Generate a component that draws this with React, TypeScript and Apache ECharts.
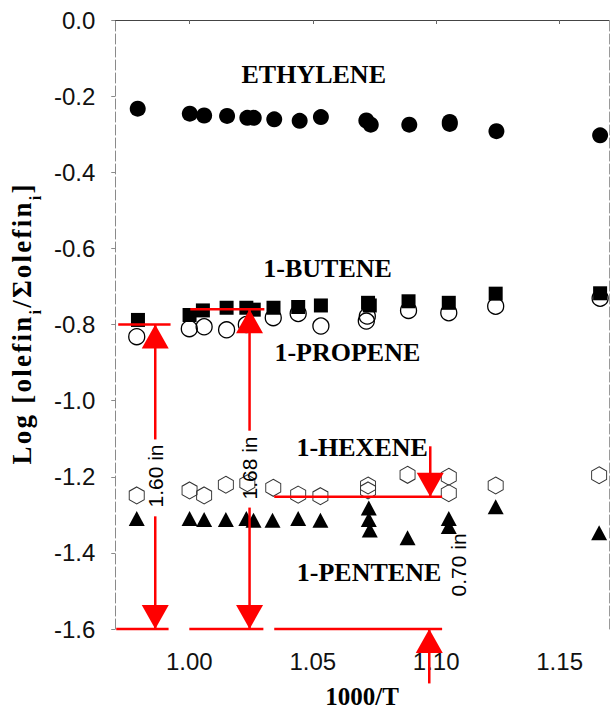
import React, { useEffect, useRef } from "react";
import * as echarts from "echarts";

// ---- data (x = 1000/T, y = log fraction) ----
const ethylene: number[][] = [
  [0.9791, -0.233], [1.0002, -0.246], [1.006, -0.251], [1.0153, -0.252],
  [1.0235, -0.257], [1.0261, -0.257], [1.0344, -0.261], [1.0447, -0.265],
  [1.0533, -0.255], [1.0717, -0.264], [1.0735, -0.275], [1.0891, -0.275],
  [1.1055, -0.268], [1.1055, -0.273], [1.1244, -0.292], [1.1664, -0.303],
];
const butene: number[][] = [
  [0.9792, -0.788], [1.0001, -0.775], [1.0055, -0.763], [1.0151, -0.756],
  [1.0231, -0.756], [1.0261, -0.761], [1.0341, -0.756], [1.0441, -0.754],
  [1.0533, -0.75], [1.0724, -0.743], [1.0731, -0.75], [1.0888, -0.739],
  [1.1051, -0.743], [1.1241, -0.719], [1.1664, -0.718],
];
const propene: number[][] = [
  [0.9787, -0.832], [1.0, -0.811], [1.006, -0.806], [1.0151, -0.814],
  [1.0231, -0.8], [1.034, -0.782], [1.0441, -0.771], [1.0533, -0.804],
  [1.0721, -0.778], [1.0717, -0.791], [1.0888, -0.763], [1.1051, -0.769],
  [1.1241, -0.752], [1.1664, -0.731],
];
const hexene: number[][] = [
  [0.9787, -1.249], [1.0001, -1.236], [1.006, -1.249], [1.0148, -1.221],
  [1.0235, -1.217], [1.034, -1.229], [1.0441, -1.247], [1.0531, -1.251],
  [1.0724, -1.223], [1.0724, -1.236], [1.0884, -1.195], [1.1051, -1.2],
  [1.1051, -1.243], [1.1241, -1.223], [1.166, -1.196],
];
const pentene: number[][] = [
  [0.9787, -1.31], [1.0001, -1.31], [1.006, -1.312], [1.0148, -1.312],
  [1.0231, -1.31], [1.026, -1.314], [1.0337, -1.314], [1.0441, -1.31],
  [1.0531, -1.314], [1.0727, -1.282], [1.0727, -1.312], [1.0731, -1.34],
  [1.0884, -1.36], [1.1051, -1.31], [1.1051, -1.331], [1.1241, -1.279],
  [1.166, -1.347],
];
const xTickValues = [1.0, 1.05, 1.1, 1.15];

// ---- labels and measurement annotations (data coordinates) ----
const speciesNames = ["ETHYLENE", "1-BUTENE", "1-PROPENE", "1-HEXENE", "1-PENTENE"];
const speciesAt: number[][] = [
  [1.0504, -0.1426], [1.056, -0.6535], [1.064, -0.874], [1.07, -1.123], [1.0728, -1.452],
];
const measureTexts = ["1.60 in", "1.68 in", "0.70 in"];
const measureAt: number[][] = [[0.9862, -1.198], [1.0244, -1.177], [1.1092, -1.4315]];
const redSegments: number[][] = [
  [0.9712, -0.8, 0.9924, -0.8],
  [0.9862, -0.8, 0.9862, -1.102],
  [0.9862, -1.304, 0.9862, -1.6],
  [1.0004, -0.76, 1.0304, -0.76],
  [1.0244, -0.76, 1.0244, -1.079],
  [1.0244, -1.281, 1.0244, -1.6],
  [0.9704, -1.6, 0.9916, -1.6],
  [1.0, -1.6, 1.03, -1.6],
  [1.0344, -1.6, 1.1024, -1.6],
  [1.0344, -1.2526, 1.1024, -1.2526],
  [1.0976, -1.12, 1.0976, -1.2526],
  [1.0972, -1.6, 1.0972, -1.743],
];
// [x, tipY, direction] direction 1 = pointing up, -1 = pointing down
const redArrowheads: number[][] = [
  [0.9862, -0.8, 1], [0.9862, -1.6, -1], [1.0244, -0.76, 1],
  [1.0244, -1.6, -1], [1.0976, -1.2526, -1], [1.0972, -1.6, 1],
];

const SERIF = "'Liberation Serif', 'Times New Roman', serif";
const SANS = "'Liberation Sans', Arial, sans-serif";
const RED = "#ff0000";
const hexPath = "path://M0,-10L8.66,-5L8.66,5L0,10L-8.66,5L-8.66,-5Z";
const HS = "\u200A";
const spaced = (s: string) => s.split("").join(HS);
const yName =
  spaced("Log [olefin") + HS + "{s|i}" + HS + spaced("/Σolefin") + HS + "{s|i}" + HS + "]";

export default function App() {
  const ref = useRef<HTMLDivElement>(null);
  useEffect(() => {
    if (!ref.current) return;
    const chart = echarts.init(ref.current, null, { renderer: "svg" });
    const axisGray = "#8a8a8a";
    const option: any = {
      animation: false,
      backgroundColor: "#ffffff",
      grid: { left: 109, right: 2, top: 20, bottom: 77, containLabel: false },
      xAxis: {
        type: "value",
        min: 0.97,
        max: 1.17,
        name: "1000/T",
        nameLocation: "middle",
        nameGap: 55,
        nameTextStyle: { fontFamily: SERIF, fontWeight: "bold", fontSize: 25, color: "#000" },
        axisLine: { lineStyle: { color: "#444", width: 1 } },
        axisTick: { customValues: xTickValues, length: 4, lineStyle: { color: "#666" } },
        axisLabel: {
          customValues: xTickValues,
          formatter: (v: number) => v.toFixed(2),
          fontFamily: SANS,
          fontSize: 24,
          color: "#111",
          margin: 20,
        },
        splitLine: { show: false },
      },
      yAxis: [
        {
          type: "value",
          min: -1.6,
          max: 0,
          interval: 0.2,
          name: yName,
          nameLocation: "middle",
          nameGap: 74,
          nameRotate: 90,
          nameTextStyle: {
            fontFamily: SERIF,
            fontWeight: "bold",
            fontSize: 27,
            color: "#000",
            rich: {
              s: { fontFamily: SERIF, fontWeight: "bold", fontSize: 16, color: "#000", verticalAlign: "bottom", padding: [0, 0, -8, 0] },
            },
          },
          axisLine: { show: true, lineStyle: { color: axisGray, width: 1, type: [10, 3] } },
          axisTick: { show: true, length: 4, lineStyle: { color: axisGray } },
          axisLabel: {
            formatter: (v: number) => v.toFixed(1),
            fontFamily: SANS,
            fontSize: 24,
            color: "#111",
            margin: 20,
          },
          splitLine: { show: false },
        },
        {
          type: "value",
          min: -1.6,
          max: 0,
          position: "right",
          axisLine: { show: true, lineStyle: { color: "#9a9a9a", width: 1, type: [10, 3] } },
          axisTick: { show: false },
          axisLabel: { show: false },
          splitLine: { show: false },
        },
      ],
      series: [
        {
          type: "scatter",
          name: "1-propene",
          data: propene,
          symbol: "circle",
          symbolSize: 16,
          itemStyle: { color: "rgba(255,255,255,0)", borderColor: "#000", borderWidth: 1.3, opacity: 1 },
          z: 2,
        },
        {
          type: "scatter",
          name: "1-hexene",
          data: hexene,
          symbol: hexPath,
          symbolSize: [15, 17],
          itemStyle: { color: "rgba(255,255,255,0)", borderColor: "#333", borderWidth: 1, opacity: 1 },
          z: 2,
        },
        {
          type: "scatter",
          name: "ethylene",
          data: ethylene,
          symbol: "circle",
          symbolSize: 16,
          itemStyle: { color: "#000", opacity: 1 },
          z: 3,
        },
        {
          type: "scatter",
          name: "1-butene",
          data: butene,
          symbol: "rect",
          symbolSize: 14,
          itemStyle: { color: "#000", opacity: 1 },
          z: 3,
        },
        {
          type: "scatter",
          name: "1-pentene",
          data: pentene,
          symbol: "triangle",
          symbolSize: [16, 15],
          itemStyle: { color: "#000", opacity: 1 },
          z: 3,
        },
        {
          type: "custom",
          name: "species labels",
          data: speciesAt,
          z: 5,
          renderItem: (params: any, api: any) => {
            const p = api.coord([api.value(0), api.value(1)]);
            return {
              type: "text",
              x: p[0],
              y: p[1],
              style: {
                text: speciesNames[params.dataIndex],
                font: `bold 26px ${SERIF}`,
                fill: "#000",
                align: "center",
                verticalAlign: "middle",
              },
            };
          },
        },
        {
          type: "custom",
          name: "red lines",
          data: redSegments,
          z: 6,
          clip: false,
          renderItem: (params: any, api: any) => {
            const a = api.coord([api.value(0), api.value(1)]);
            const b = api.coord([api.value(2), api.value(3)]);
            return {
              type: "line",
              shape: { x1: a[0], y1: a[1], x2: b[0], y2: b[1] },
              style: { stroke: RED, lineWidth: 2.5 },
            };
          },
        },
        {
          type: "custom",
          name: "red arrowheads",
          data: redArrowheads,
          z: 7,
          clip: false,
          renderItem: (params: any, api: any) => {
            const t = api.coord([api.value(0), api.value(1)]);
            const dir = api.value(2);
            const h = 24;
            const w = 13.5;
            const by = t[1] + (dir > 0 ? h : -h);
            return {
              type: "polygon",
              shape: { points: [[t[0], t[1]], [t[0] - w, by], [t[0] + w, by]] },
              style: { fill: RED },
            };
          },
        },
        {
          type: "custom",
          name: "measurements",
          data: measureAt,
          z: 8,
          clip: false,
          renderItem: (params: any, api: any) => {
            const p = api.coord([api.value(0), api.value(1)]);
            return {
              type: "text",
              x: p[0],
              y: p[1],
              rotation: Math.PI / 2,
              style: {
                text: measureTexts[params.dataIndex],
                font: `21px ${SANS}`,
                fill: "#000",
                align: "center",
                verticalAlign: "middle",
              },
            };
          },
        },
      ],
    };
    chart.setOption(option);
    return () => chart.dispose();
  }, []);
  return (
    <div
      ref={ref}
      style={{ position: "fixed", left: 0, top: 0, width: 611, height: 714, background: "#fff" }}
    />
  );
}
